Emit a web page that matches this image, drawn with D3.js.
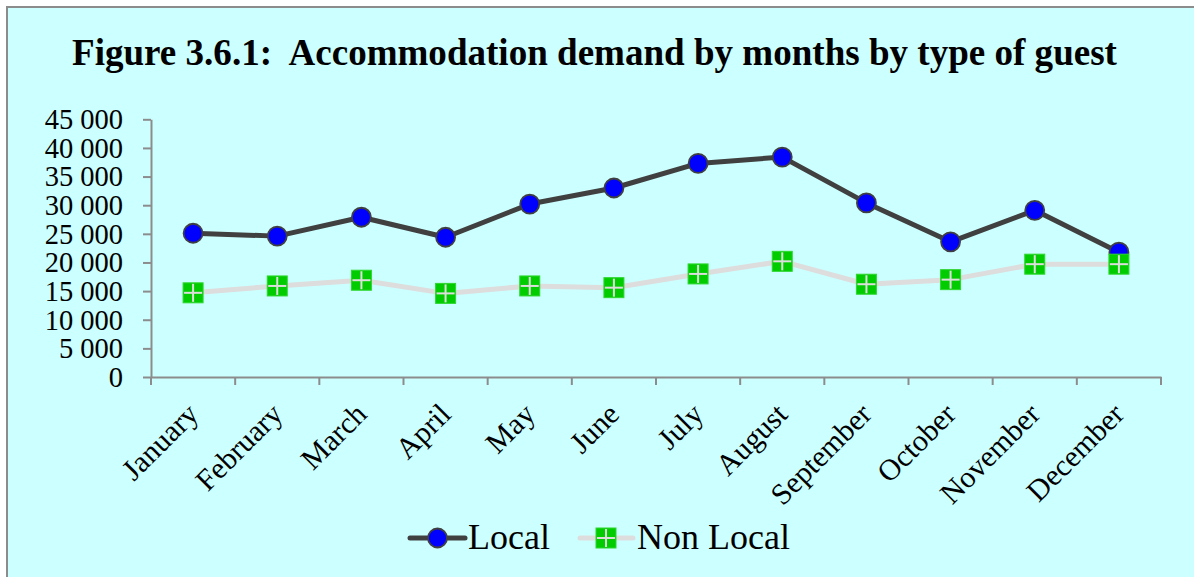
<!DOCTYPE html>
<html><head><meta charset="utf-8">
<script src="https://cdn.jsdelivr.net/npm/d3@7"></script>
<style>html,body{margin:0;padding:0;background:#fff;}svg{display:block;}</style>
</head><body>
<svg id="chart" width="1194" height="577"></svg>
<script>
const months = ["January","February","March","April","May","June","July","August","September","October","November","December"];
const localValues = [25100, 24600, 27900, 24400, 30200, 33000, 37300, 38400, 30400, 23600, 29100, 21800];
const nonLocalValues = [14700, 15900, 16900, 14600, 15900, 15600, 18000, 20200, 16200, 17000, 19700, 19700];
const yTicks = [0,5000,10000,15000,20000,25000,30000,35000,40000,45000];
const titleText = "Figure 3.6.1:  Accommodation demand by months by type of guest";
const seriesNames = ["Local","Non Local"];

const svg = d3.select("#chart");
const serif = "'Liberation Serif','DejaVu Serif',serif";

svg.append("rect").attr("x",7).attr("y",7).attr("width",1200).attr("height",600)
  .attr("fill","#CCFFFF").attr("stroke","#8c8c8c").attr("stroke-width",2);

// title
const title = svg.append("text").attr("x",594.5).attr("y",65).attr("text-anchor","middle")
  .style("white-space","pre")
  .attr("font-family",serif).attr("font-weight","bold").attr("font-size",32).attr("fill","#000").text(titleText);
const tw = title.node().getComputedTextLength();
title.attr("font-size", 32*1045/tw);

const x = d3.scaleBand().domain(months).range([151,1161]);
const y = d3.scaleLinear().domain([0,45000]).range([377,119.3]);

const fmt = d => d3.format(",")(d).replace(/,/g," ");

const yAxis = svg.append("g").attr("transform","translate(151,0)")
  .call(d3.axisLeft(y).tickValues(yTicks).tickFormat(fmt).tickSize(8).tickSizeOuter(0).tickPadding(20));
yAxis.selectAll("path,line").attr("stroke","#8c8c8c").attr("stroke-width",2);
yAxis.selectAll("text").attr("font-family",serif).attr("font-size",28.5).attr("fill","#000").attr("dy","0.33em");

const xAxis = svg.append("g").attr("transform","translate(0,377)")
  .call(d3.axisBottom(x).tickSize(0).tickSizeOuter(0).tickFormat(""));
xAxis.select("path").attr("stroke","#8c8c8c").attr("stroke-width",2);
xAxis.selectAll(".tick").remove();
const edges = months.map(m => x(m)).concat([x.range()[1]]);
svg.append("g").selectAll("line").data(edges).join("line")
  .attr("x1",d=>d).attr("x2",d=>d).attr("y1",377).attr("y2",385)
  .attr("stroke","#8c8c8c").attr("stroke-width",2);

svg.append("g").selectAll("text").data(months).join("text")
  .attr("transform",d=>`translate(${x(d)+x.bandwidth()/2+7},${416}) rotate(-45)`)
  .attr("text-anchor","end").attr("font-family",serif).attr("font-size",30).attr("fill","#000")
  .text(d=>d);

const cx = i => x(months[i]) + x.bandwidth()/2;
const line = d3.line().x((d,i)=>cx(i)).y(d=>y(d));

function drawCircle(g, px, py){
  g.append("circle").attr("cx",px).attr("cy",py).attr("r",9.5)
    .attr("fill","#0000FF").attr("stroke","#404040").attr("stroke-width",1.8);
}
function drawSquare(g, px, py){
  const s = 20;
  g.append("rect").attr("x",px-s/2).attr("y",py-s/2).attr("width",s).attr("height",s)
    .attr("fill","#00CC00").attr("stroke","#2fd62f").attr("stroke-width",1);
  g.append("line").attr("x1",px-s/2+1).attr("x2",px+s/2-1).attr("y1",py).attr("y2",py)
    .attr("stroke","#dddddd").attr("stroke-width",2);
  g.append("line").attr("y1",py-s/2+1).attr("y2",py+s/2-1).attr("x1",px).attr("x2",px)
    .attr("stroke","#dddddd").attr("stroke-width",2);
}

const gL = svg.append("g");
gL.append("path").datum(localValues).attr("d",line).attr("fill","none")
  .attr("stroke","#404040").attr("stroke-width",5).attr("stroke-linejoin","round");
localValues.forEach((v,i)=>drawCircle(gL, cx(i), y(v)));

const gN = svg.append("g");
gN.append("path").datum(nonLocalValues).attr("d",line).attr("fill","none")
  .attr("stroke","#dddddd").attr("stroke-width",5).attr("stroke-linejoin","round");
nonLocalValues.forEach((v,i)=>drawSquare(gN, cx(i), y(v)));

// legend
const lg = svg.append("g");
const ly = 538;
lg.append("line").attr("x1",410).attr("x2",465).attr("y1",ly).attr("y2",ly)
  .attr("stroke","#404040").attr("stroke-width",5).attr("stroke-linecap","round");
drawCircle(lg, 437.5, ly);
lg.append("text").attr("x",468).attr("y",549).attr("font-family",serif).attr("font-size",36).attr("fill","#000").text(seriesNames[0]);
lg.append("line").attr("x1",580).attr("x2",633).attr("y1",ly).attr("y2",ly)
  .attr("stroke","#dddddd").attr("stroke-width",5).attr("stroke-linecap","round");
drawSquare(lg, 606, ly);
lg.append("text").attr("x",637).attr("y",549).attr("font-family",serif).attr("font-size",36).attr("fill","#000").text(seriesNames[1]);
</script>
</body></html>
